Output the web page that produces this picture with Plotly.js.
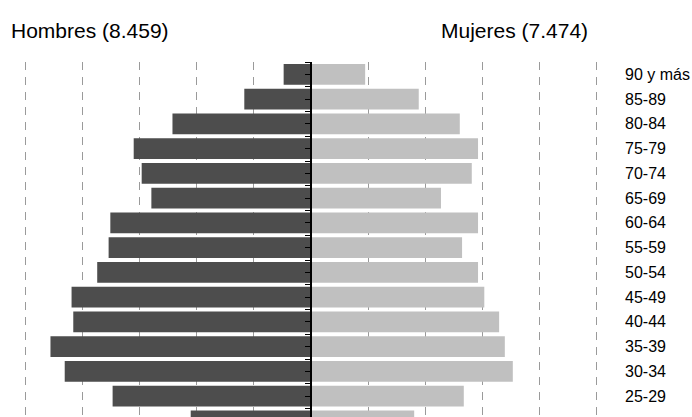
<!DOCTYPE html>
<html>
<head>
<meta charset="utf-8">
<script src="https://cdn.plot.ly/plotly-3.0.1.min.js"></script>
<style>html,body{margin:0;padding:0;background:#fff;}#chart{width:692px;height:417px;}</style>
</head>
<body>
<div id="chart"></div>
<script>
// Age groups, from the lowest visible row to the top row
var ageGroups = ["20-24","25-29","30-34","35-39","40-44","45-49","50-54","55-59","60-64","65-69","70-74","75-79","80-84","85-89","90 y más"];
var hombres = [211, 348, 432, 457, 417, 420, 375, 355, 352, 280, 297, 311, 243, 117, 48];
var mujeres = [181, 268, 354, 340, 330, 304, 293, 265, 293, 228, 282, 293, 261, 189, 95];
var tituloHombres = "Hombres (8.459)";
var tituloMujeres = "Mujeres (7.474)";

var idx = ageGroups.map(function(_, i){ return i; });

var traces = [
  {type:"bar", orientation:"h", y: idx, x: hombres.map(function(v){return -v;}),
   marker:{color:"#4d4d4d"}, width:0.84, name:"Hombres", hoverinfo:"skip"},
  {type:"bar", orientation:"h", y: idx, x: mujeres, yaxis:"y2",
   marker:{color:"#c0c0c0"}, width:0.84, name:"Mujeres", hoverinfo:"skip"}
];

var yr = [0.157, 14.5];
var font = "'Liberation Sans', Arial, sans-serif";

var layout = {
  width:692, height:417,
  margin:{l:6, r:76, t:62, b:0, pad:0},
  paper_bgcolor:"#fff", plot_bgcolor:"#fff",
  showlegend:false, barmode:"overlay",
  font:{family:font, color:"#000"},
  xaxis:{range:[-535,535], tick0:0, dtick:100, showgrid:true, gridcolor:"#9a9a9a",
         gridwidth:1, griddash:"8px,7px", zeroline:false, showticklabels:false,
         ticks:"", showline:false, fixedrange:true},
  yaxis:{range:yr, anchor:"free", position:0.5, showline:true, linecolor:"#000",
         linewidth:2, ticks:"outside", ticklen:5, tickwidth:1, tickcolor:"#000",
         tick0:0.5, dtick:0.5, showticklabels:false, showgrid:false, zeroline:false,
         fixedrange:true},
  yaxis2:{range:yr, overlaying:"y", side:"right", anchor:"x", tickmode:"array",
          tickvals:idx, ticktext:ageGroups, ticks:"", showline:false, showgrid:false,
          zeroline:false, tickfont:{family:font, size:16, color:"#000"},
          ticklabelstandoff:8, fixedrange:true},
  annotations:[
    {text:tituloHombres, xref:"x", x:-529, yref:"paper", y:1.09, xanchor:"left",
     yanchor:"middle", showarrow:false, font:{family:font, size:21, color:"#000"}},
    {text:tituloMujeres, xref:"x", x:225, yref:"paper", y:1.09, xanchor:"left",
     yanchor:"middle", showarrow:false, font:{family:font, size:21, color:"#000"}}
  ]
};

Plotly.newPlot("chart", traces, layout, {displayModeBar:false, staticPlot:true});
</script>
</body>
</html>
